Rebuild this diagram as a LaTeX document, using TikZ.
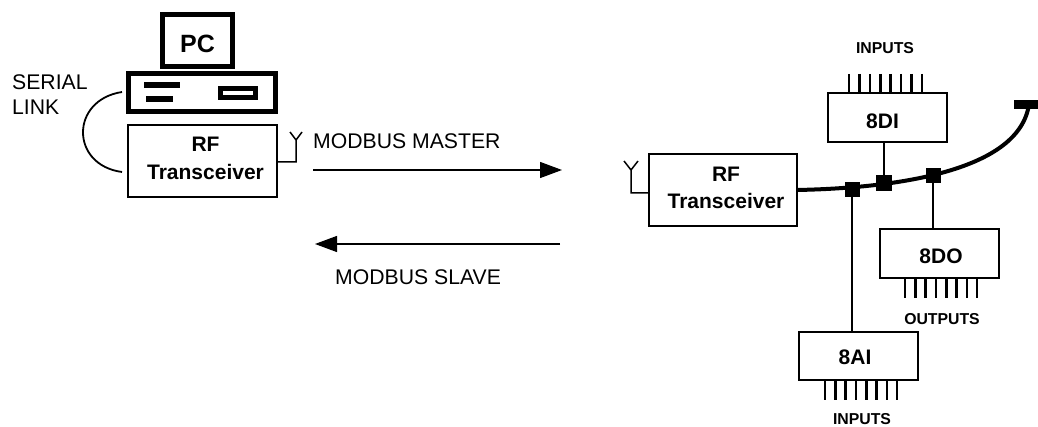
\documentclass[tikz,border=0pt]{standalone}
\usepackage{fontspec}
\setmainfont{Liberation Sans}
\usetikzlibrary{arrows.meta}
\tikzset{
  thinbox/.style={draw=black,line width=2.3pt,inner sep=0pt,outer sep=0pt,align=center,font=\fontsize{21}{27.5}\selectfont\bfseries},
  thickbox/.style={draw=black,line width=5pt,inner sep=0pt,outer sep=0pt,align=center},
  wire/.style={line width=2.4pt,draw=black},
  busline/.style={line width=4pt,draw=black},
  pin/.style={line width=2.6pt,draw=black},
  tap/.style={fill=black,inner sep=0pt,outer sep=0pt,minimum size=15pt},
  bigarrow/.style={line width=1.3pt,draw=black,-{Triangle[length=22pt,width=16pt]}},
  plainlabel/.style={inner sep=0pt,font=\fontsize{21.2}{25}\selectfont,align=left},
  pinlabel/.style={inner sep=0pt,font=\fontsize{15.8}{18}\selectfont\bfseries},
}
\begin{document}
\begin{tikzpicture}[x=1pt,y=-1pt]
\useasboundingbox (0,0) rectangle (1038,427);
% PC
\node[thickbox,minimum width=70pt,minimum height=52pt,text height=24pt,text depth=0pt,font=\fontsize{25}{28}\selectfont\bfseries] (monitor) at (197.5,41) {PC};
\node[thickbox,minimum width=147pt,minimum height=38pt] (base) at (202,92.5) {};
\fill (144,82) rectangle (180,88);
\fill (146,96) rectangle (173,102);
\draw[line width=5pt] (220.5,88.5) rectangle (255.5,97.5);
% left transceiver
\node[thinbox,line width=1.8pt,minimum width=149pt,minimum height=72pt] (rfa) at (202.5,161) {\hspace*{6pt}RF\\\hspace*{6pt}Transceiver\\[-22.5pt]\mbox{}};
\coordinate (antaj) at (296,162);
\coordinate (antat) at (296,140);
\coordinate (antal) at (290,132);
\coordinate (antar) at (302,132);
\draw[wire,line width=1.5pt] (rfa.east |- antaj) -- (antaj) -- (antat) -- (antal) (antat) -- (antar);
% serial link
\coordinate (sera) at (122,92);
\coordinate (serb) at (122,172);
\draw[wire,line width=1.8pt] (sera) .. controls (70,100) and (70,165) .. (serb);
\node[plainlabel,anchor=west] (seriallabel) at (12,94.5) {SERIAL\\LINK};
% arrows
\coordinate (m1) at (313,170);
\coordinate (m2) at (562,170);
\coordinate (s1) at (560,244);
\coordinate (s2) at (315,244);
\draw[bigarrow] (m1) -- (m2);
\draw[bigarrow] (s1) -- (s2);
\node[plainlabel,anchor=west] (master) at (313,141) {MODBUS MASTER};
\node[plainlabel,anchor=west] (slave) at (335,277) {MODBUS SLAVE};
% right transceiver
\node[thinbox,minimum width=148pt,minimum height=72pt] (rfb) at (723,190) {\hspace*{6pt}RF\\\hspace*{6pt}Transceiver\\[-23.5pt]\mbox{}};
\coordinate (antbj) at (631,193);
\coordinate (antbt) at (631,170);
\coordinate (antbl) at (624,161);
\coordinate (antbr) at (638,161);
\draw[wire,line width=1.5pt] (648,193) -- (antbj) -- (antbt) -- (antbl) (antbt) -- (antbr);
% bus
\coordinate (busend) at (1029,104);
\draw[busline] (rfb.east) .. controls (900,188) and (1020,170) .. (busend);
\fill (1014,100) rectangle (1038,109);
\node[tap] (t1) at (852,190) {};
\node[tap,minimum size=16pt] (t2) at (884,183) {};
\node[tap] (t3) at (933,176) {};
% modules
\node[thinbox,minimum width=119pt,minimum height=49pt,text height=22pt,text depth=0pt] (di) at (887.5,117.5) {\hspace*{-10pt}8DI};
\node[thinbox,minimum width=119pt,minimum height=49pt,text height=20pt,text depth=0pt] (do) at (939.5,253.5) {\hspace*{3pt}8DO};
\node[thinbox,minimum width=119pt,minimum height=48pt,text height=17pt,text depth=0pt] (ai) at (858.5,356) {\hspace*{-7pt}8AI};
\draw[wire] (t2.center) -- (t2.center |- di.south);
\draw[wire] (t3.center) -- (t3.center |- do.north);
\draw[wire] (t1.center) -- (t1.center |- ai.north);
\foreach \i in {0,...,7} {
  \draw[pin] (849+\i*10.43,74) -- (849+\i*10.43,92);
  \draw[pin] (905+\i*10.3,279) -- (905+\i*10.3,298);
  \draw[pin] (825+\i*10.3,381) -- (825+\i*10.3,400);
}
\node[pinlabel] (inputsdi) at (885,48) {INPUTS};
\node[pinlabel] (outputsdo) at (942,319) {OUTPUTS};
\node[pinlabel] (inputsai) at (862,419.5) {INPUTS};
\end{tikzpicture}
\end{document}
